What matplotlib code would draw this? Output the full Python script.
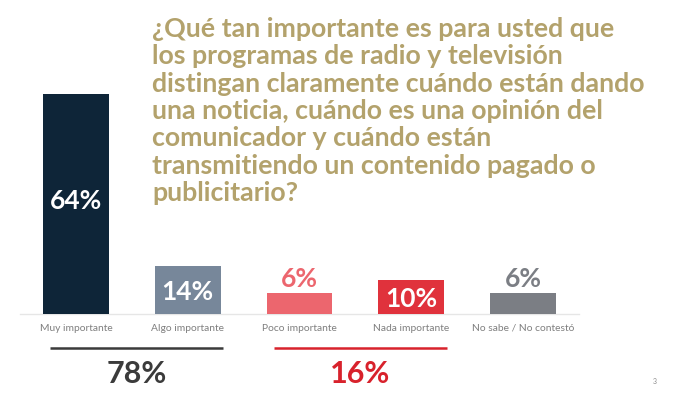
import matplotlib
matplotlib.use("Agg")
import matplotlib.pyplot as plt

# Chart data
categories = ["Muy importante", "Algo importante", "Poco importante",
              "Nada importante", "No sabe / No contestó"]
values = [64, 14, 6, 10, 6]
value_labels = ["64%", "14%", "6%", "10%", "6%"]
bar_colors = ["#0E2538", "#77879A", "#EC666E", "#E0323C", "#7B7E84"]
label_inside = [True, True, False, True, False]

group_totals = ["78%", "16%"]
group_colors = ["#3B3B3B", "#D8222C"]
group_spans = [(0, 1), (2, 3)]

title = ("¿Qué tan importante es para usted que\n"
         "los programas de radio y televisión\n"
         "distingan claramente cuándo están dando\n"
         "una noticia, cuándo es una opinión del\n"
         "comunicador y cuándo están\n"
         "transmitiendo un contenido pagado o\n"
         "publicitario?")

plt.rcParams["font.family"] = ["Lato", "DejaVu Sans"]

W, H = 695, 413
fig = plt.figure(figsize=(W / 100, H / 100), dpi=100)
fig.patch.set_facecolor("white")

# axes placed in pixel terms: baseline at y=314 from top, x from 20 to 579
ax_left, ax_right = 20, 579
base_px = 314
px_per_unit = 220 / 64
ymax = 70
ax_h = ymax * px_per_unit
ax = fig.add_axes([ax_left / W, (H - base_px) / H,
                   (ax_right - ax_left) / W, ax_h / H])
ax.set_xlim(-0.5, 4.5)
ax.set_ylim(0, ymax)
ax.axis("off")

xs = list(range(len(values)))
bars = ax.bar(xs, values, width=0.59, color=bar_colors, zorder=2)

# baseline
ax.plot([-0.5, 4.5], [0, 0], color="#E6E6E6", lw=1, zorder=1, clip_on=False)

for x, v, lab, c, inside in zip(xs, values, value_labels, bar_colors, label_inside):
    if inside:
        y = v / 2 + 1 if v > 20 else v / 2 - 0.6
        ax.text(x, y, lab, ha="center", va="center", color="white",
                fontsize=19, fontweight="bold")
    else:
        ax.text(x, v + 0.8, lab, ha="center", va="bottom", color=c,
                fontsize=19, fontweight="bold")

for x, cat in zip(xs, categories):
    ax.text(x, -4.1, cat, ha="center", va="center", color="#7F7F7F",
            fontsize=7.4, clip_on=False)

# group underline + totals
for (a, b), tot, c in zip(group_spans, group_totals, group_colors):
    x0, x1 = a - 0.23, b + 0.32
    ax.plot([x0, x1], [-9.9, -9.9], color=c, lw=1.8, clip_on=False,
            solid_capstyle="butt")
    ax.text((x0 + x1) / 2, -17.4, tot, ha="center", va="center", color=c,
            fontsize=22, fontweight="bold", clip_on=False)

# question title
fig.text(152 / W, 1 - 17 / H, title, ha="left", va="top", color="#B3A26C",
         fontsize=19.3, fontweight="bold", linespacing=1.165)

# page number
fig.text(655 / W, 1 - 381 / H, "3", ha="center", va="center",
         color="#8C8C8C", fontsize=5)

fig.savefig("out.png", dpi=100, facecolor="white")
